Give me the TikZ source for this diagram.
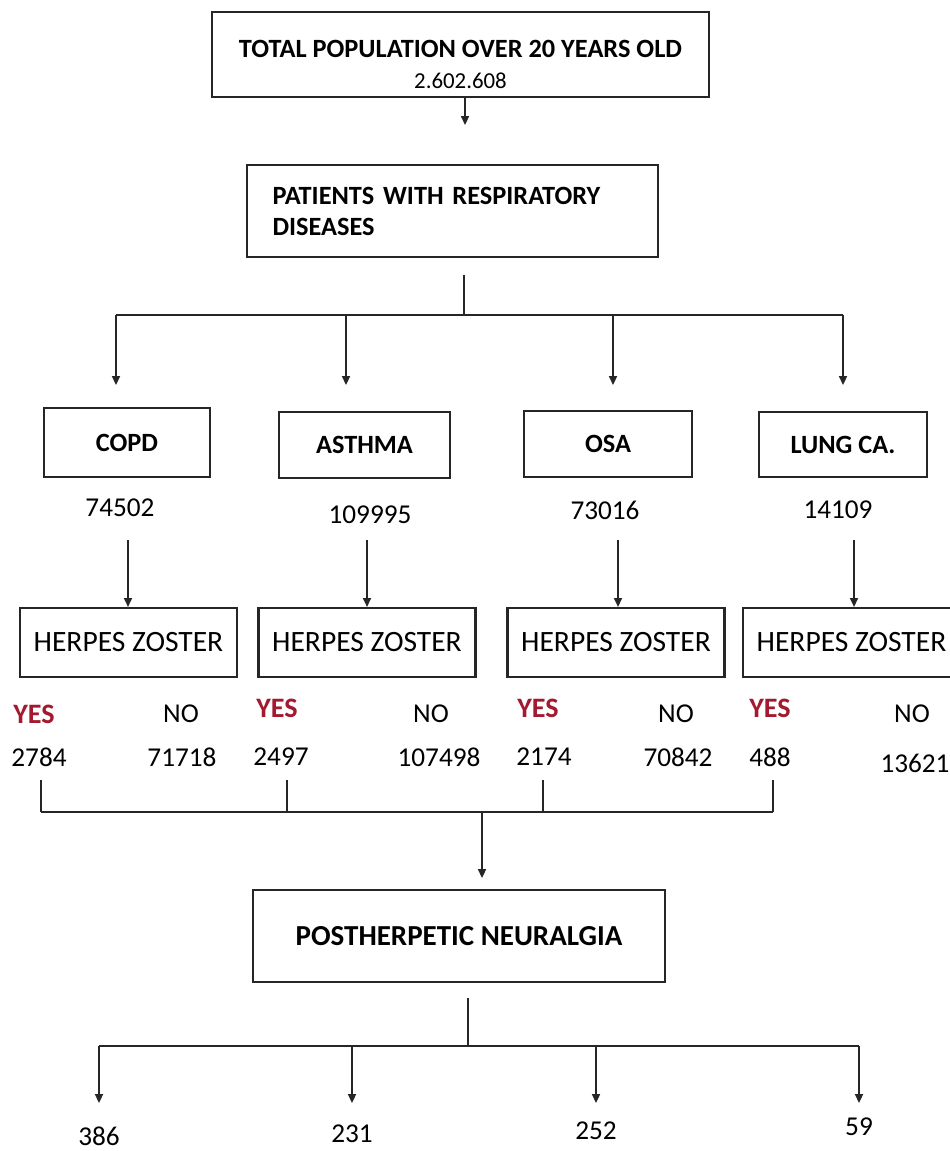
\documentclass[tikz,border=0pt]{standalone}
\usepackage{fontspec}
\setmainfont{Carlito}
\usetikzlibrary{arrows.meta}
\definecolor{yesred}{HTML}{A3192F}
\newcommand{\pxu}{0.02cm}

\begin{document}
\begin{tikzpicture}[
    x=\pxu, y=-\pxu,
    font=\fontsize{15.5}{18}\selectfont,
    box/.style={draw=black!85, line width=1.2pt, inner sep=0pt, align=center, font=\fontsize{15}{17.6}\selectfont\bfseries},
    hzbox/.style={draw=black!85, line width=1.2pt, minimum width=217*\pxu, minimum height=69*\pxu, inner sep=0pt,
                  font=\fontsize{16.8}{19}\selectfont},
    yes/.style={text=yesred, font=\fontsize{16}{18}\selectfont\bfseries},
    conn/.style={line width=1pt, black!85},
    arr/.style={conn, -{Triangle[length=5pt, width=4.5pt]}}
]
  \useasboundingbox (0,0) rectangle (949,1151);

  % ===== top of the tree =====
  \node[box, minimum width=497*\pxu, minimum height=85*\pxu] (total) at (460.5,54.5)
    {\rule{0pt}{21pt}TOTAL POPULATION OVER 20 YEARS OLD\\[0pt]{\fontsize{13}{15}\selectfont\mdseries 2.602.608}};
  \node[box, minimum width=411*\pxu, minimum height=92*\pxu, align=left, text width=360*\pxu] (resp) at (452.5,211)
    {PATIENTS WITH RESPIRATORY\\DISEASES};
  \coordinate (respin) at (465,125);
  \draw[arr] (respin |- total.south) -- (respin);

  % ===== diseases =====
  \foreach \nm/\lab/\cx/\cy/\w/\h in {copd/COPD/127/442.5/166/69, asthma/ASTHMA/364.5/445/171/66,
                                      osa/OSA/608/444/168/66, lung/LUNG CA./843/444.5/168/65}
    \node[box, minimum width=\w*\pxu, minimum height=\h*\pxu] (\nm) at (\cx,\cy) {\lab};
  \foreach \nm/\v/\cx/\cy in {copd/74502/120/508, asthma/109995/370/515, osa/73016/605/510, lung/14109/838/510}
    \node (\nm-n) at (\cx,\cy) {\v};

  \coordinate (stem) at (464,275);
  \coordinate (bus) at (464,315);
  \foreach \i/\x in {1/116, 2/346, 3/613, 4/843}
    \coordinate (din\i) at (\x,385);
  \draw[conn] (stem) -- (bus);
  \draw[conn] (din1 |- bus) -- (din4 |- bus);
  \foreach \i in {1,...,4}
    \draw[arr] (din\i |- bus) -- (din\i);

  % ===== herpes zoster =====
  \foreach \i/\cx/\ax in {1/128.5/128, 2/367/367, 3/616/618, 4/851.5/854} {
    \node[hzbox] (hz\i) at (\cx,642.5) {HERPES ZOSTER};
    \coordinate (hzin\i) at (\ax,540);
    \draw[arr] (hzin\i) -- (hzin\i |- hz\i.north);
  }
  \foreach \i/\yx/\yy/\nx in {1/34/714/181, 2/277/708/431, 3/538/708/676, 4/770/708/912} {
    \node[yes] (yes\i) at (\yx,\yy) {YES};
    \node (no\i) at (\nx,714) {NO};
  }
  \foreach \i/\yx/\yv/\nx/\ny/\nv in {1/39/2784/182/757/71718, 2/281/2497/439/757/107498,
                                      3/544/2174/678/757/70842, 4/770/488/915/763/13621} {
    \node (yesv\i) at (\yx,757) {\yv};
    \node (nov\i) at (\nx,\ny) {\nv};
  }

  % ===== bracket into PHN =====
  \foreach \i/\x in {1/41, 2/287, 3/543, 4/773}
    \coordinate (br\i) at (\x,780);
  \coordinate (join) at (482,812);
  \coordinate (pnin) at (482,878);
  \foreach \i in {1,...,4}
    \draw[conn] (br\i) -- (br\i |- join);
  \draw[conn] (br1 |- join) -- (br4 |- join);
  \draw[arr] (join) -- (pnin);

  \node[box, minimum width=412*\pxu, minimum height=92*\pxu, font=\fontsize{16.5}{19}\selectfont\bfseries] (pn) at (459,936)
    {POSTHERPETIC NEURALGIA};

  % ===== results =====
  \coordinate (pnout) at (468,998);
  \coordinate (split) at (468,1046);
  \draw[conn] (pnout) -- (split);
  \foreach \i/\x/\v/\ty in {1/99/386/1136, 2/352/231/1134, 3/596/252/1131, 4/859/59/1127} {
    \coordinate (res\i) at (\x,1103);
    \node (resv\i) at (\x,\ty) {\v};
    \draw[arr] (res\i |- split) -- (res\i);
  }
  \draw[conn] (res1 |- split) -- (res4 |- split);
\end{tikzpicture}
\end{document}
